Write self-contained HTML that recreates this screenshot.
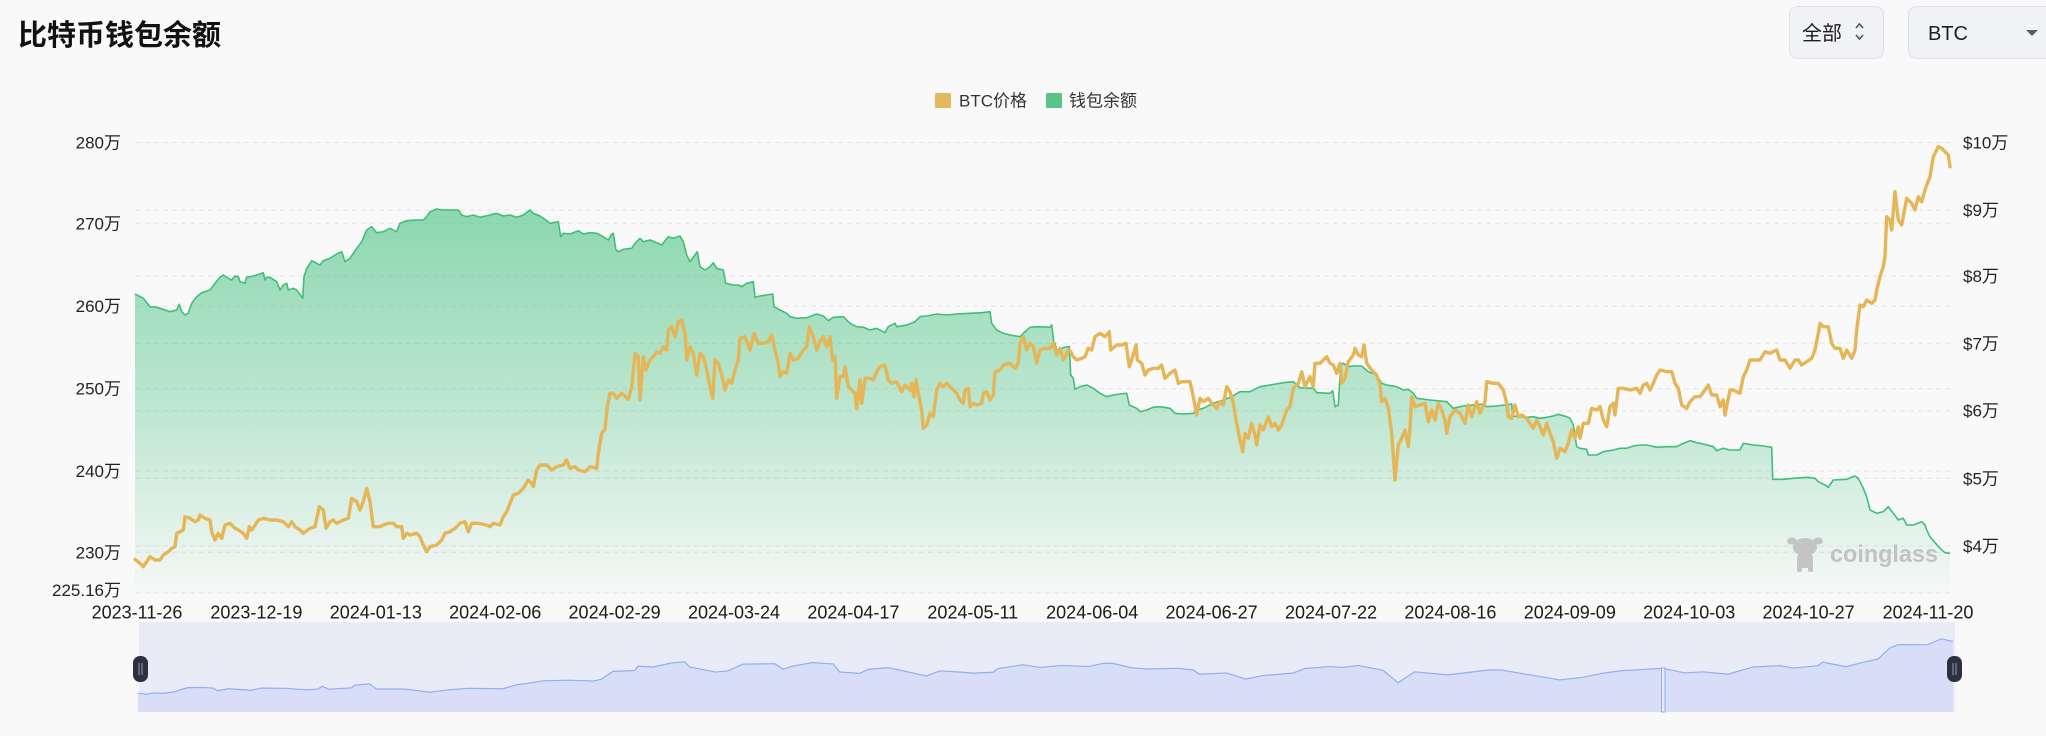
<!DOCTYPE html>
<html>
<head>
<meta charset="utf-8">
<style>
html,body{margin:0;padding:0;background:#f9f9f9;}
body{width:2046px;height:736px;overflow:hidden;position:relative;}
svg{position:absolute;left:0;top:0;}
text{font-family:"Liberation Sans","Noto Sans CJK SC",sans-serif;}
</style>
</head>
<body>
<svg width="2046" height="736" viewBox="0 0 2046 736" xmlns="http://www.w3.org/2000/svg">
<defs>
<linearGradient id="ga" gradientUnits="userSpaceOnUse" x1="0" y1="209" x2="0" y2="593">
<stop offset="0" stop-color="rgb(61,191,122)" stop-opacity="0.58"/>
<stop offset="0.5" stop-color="rgb(61,191,122)" stop-opacity="0.33"/>
<stop offset="1" stop-color="rgb(61,191,122)" stop-opacity="0.02"/>
</linearGradient>
</defs>
<rect x="0" y="0" width="2046" height="736" fill="#f9f9f9"/>

<!-- Title -->
<text x="18" y="45" font-size="29" font-weight="bold" fill="#111" style="font-family:'Noto Sans CJK SC','Liberation Sans',sans-serif">比特币钱包余额</text>

<!-- Buttons -->
<rect x="1789.5" y="6.5" width="94" height="52" rx="8" fill="#f0f2f6" stroke="#dfe2e8"/>
<text x="1802" y="40" font-size="20" fill="#1f1f1f">全部</text>
<polyline points="1856,28 1859.5,24 1863,28" fill="none" stroke="#555" stroke-width="1.6"/>
<polyline points="1856,35 1859.5,39 1863,35" fill="none" stroke="#555" stroke-width="1.6"/>
<rect x="1908.5" y="6.5" width="150" height="52" rx="8" fill="#f0f2f6" stroke="#dfe2e8"/>
<text x="1928" y="40" font-size="20" fill="#1f1f1f">BTC</text>
<polygon points="2026,30 2038,30 2032,36" fill="#555d66"/>

<!-- Legend -->
<rect x="935" y="93" width="16" height="15" rx="1" fill="#e2b95f"/>
<text x="959" y="106.5" font-size="17" fill="#333">BTC价格</text>
<rect x="1046" y="93" width="16" height="15" rx="1" fill="#5ac487"/>
<text x="1069" y="106.5" font-size="17" fill="#333">钱包余额</text>

<!-- Grid -->
<g stroke="#e4e4e4" stroke-width="1" stroke-dasharray="5,4">
<line x1="136" y1="142.5" x2="1951" y2="142.5"/>
<line x1="136" y1="210" x2="1951" y2="210"/>
<line x1="136" y1="223.3" x2="1951" y2="223.3"/>
<line x1="136" y1="276" x2="1951" y2="276"/>
<line x1="136" y1="306" x2="1951" y2="306"/>
<line x1="136" y1="343.3" x2="1951" y2="343.3"/>
<line x1="136" y1="388.7" x2="1951" y2="388.7"/>
<line x1="136" y1="410.7" x2="1951" y2="410.7"/>
<line x1="136" y1="471" x2="1951" y2="471"/>
<line x1="136" y1="478.3" x2="1951" y2="478.3"/>
<line x1="136" y1="546" x2="1951" y2="546"/>
<line x1="136" y1="552.3" x2="1951" y2="552.3"/>
<line x1="136" y1="593" x2="1951" y2="593"/>
</g>

<!-- Left axis labels -->
<g font-size="17" fill="#222" text-anchor="end">
<text x="121" y="148.5">280万</text>
<text x="121" y="229.5">270万</text>
<text x="121" y="312">260万</text>
<text x="121" y="394.7">250万</text>
<text x="121" y="477">240万</text>
<text x="121" y="558.3">230万</text>
<text x="121" y="596">225.16万</text>
</g>
<!-- Right axis labels -->
<g font-size="17" fill="#222">
<text x="1963" y="148.5">$10万</text>
<text x="1963" y="216">$9万</text>
<text x="1963" y="282">$8万</text>
<text x="1963" y="349.3">$7万</text>
<text x="1963" y="416.7">$6万</text>
<text x="1963" y="484.3">$5万</text>
<text x="1963" y="552">$4万</text>
</g>

<!-- X labels -->
<g font-size="18" fill="#1a1a1a" text-anchor="middle">
<text x="137" y="618.5">2023-11-26</text>
<text x="256.4" y="618.5">2023-12-19</text>
<text x="375.8" y="618.5">2024-01-13</text>
<text x="495.2" y="618.5">2024-02-06</text>
<text x="614.6" y="618.5">2024-02-29</text>
<text x="734" y="618.5">2024-03-24</text>
<text x="853.4" y="618.5">2024-04-17</text>
<text x="972.8" y="618.5">2024-05-11</text>
<text x="1092.2" y="618.5">2024-06-04</text>
<text x="1211.6" y="618.5">2024-06-27</text>
<text x="1331" y="618.5">2024-07-22</text>
<text x="1450.4" y="618.5">2024-08-16</text>
<text x="1569.8" y="618.5">2024-09-09</text>
<text x="1689.2" y="618.5">2024-10-03</text>
<text x="1808.6" y="618.5">2024-10-27</text>
<text x="1928" y="618.5">2024-11-20</text>
</g>

<!-- Green area -->
<path fill="url(#ga)" d="M135,294 L143.3,298.3 150,306.7 156.7,307.3 163.3,309.3 170,311.7 176.7,310 179.3,304.3 181.7,311.7 185,315 188.3,313.3 191.7,303.3 196.7,296.7 201.7,292.7 210,290 215,283.3 220,277.3 223.3,275 228.3,278.3 231.7,280 235,276 238.3,276.7 240,281.7 245,283.3 246.7,277.3 253.3,276 260,274 263.3,272.7 265,280 266.7,277.3 270,277.3 276.7,281.7 280,290 283.3,285 286.7,283.3 288.3,290 293.3,288.3 296.7,290 302.7,298.3 304,276.7 306.7,268.3 311.7,260.7 316.7,263.3 320,265 323.3,260.7 330,258.3 336.7,254 341.7,251.7 345,261.7 350,258.3 356.7,248.3 361.7,241.7 366.7,230 371.7,226.7 376.7,232.7 383.3,231.7 390,228.3 396.7,231.7 400,223.3 406.7,220.7 416.7,220 423.3,220 426.7,216.7 430,211.7 436.7,209 443.3,210 450,210 458.3,210 461.7,215 466.7,216.7 473.3,215 480,217.3 490,215 496.7,213.3 503.3,216 510,215 516.7,217.3 523.3,215 530,210 533.3,213.3 540,216 546.7,220.7 550,223.3 558.3,221.7 560.7,236.7 563.3,233.3 570,234 578.3,230.7 583.3,234 590,232.7 596.7,233.3 603.3,236.7 608.3,240 611.7,234 613.3,233.3 616,250 618.3,251.7 623.3,249.3 631.7,248.3 635,243.3 640,238.3 643.3,241.7 650,240 656.7,242.7 661.7,245 668.3,236.7 673.3,238.3 680,236 683.3,241.7 686.7,255 690,261.7 695,255 697.3,251.7 700,266.7 705,270 710,266.7 713.3,262.7 716.7,268.3 723.3,270 725.7,283.3 733.3,285 738.3,285 741.7,286.7 746.7,283.3 753.3,281.7 755,297.3 760,296 772.7,294 774,306.7 780,310 786.7,313.3 790,316.7 796.7,318.3 806.7,317.7 816.7,314 823.3,316 828.3,320.7 833.3,317.3 843.3,316.7 850,323.3 856.7,326.7 863.3,327.3 870,330 876.7,328.3 885,332.7 888.3,326.7 895,323.3 896.7,326.7 906.7,325 915,321.7 920,316.7 926.7,316 936.7,314 946.7,315 956.7,314 970,313.3 981.7,312.7 990,311.7 991.7,323.3 996.7,330 1003.3,333.3 1010,335 1020,336.7 1025,331.7 1030,327.3 1038.3,326.7 1050,327.3 1051.7,324.7 1054,343.3 1055,343.3 1056.7,350 1061.7,348.3 1066.7,346.7 1069.3,346.7 1070.7,375 1073.3,378.3 1075,389.3 1080,386.7 1086.7,385 1093.3,388.3 1100,393.3 1106.7,396.7 1113.3,395 1120,394 1126.7,393.3 1129.3,405 1136.7,408.3 1140,411.7 1146.7,410 1153.3,407.3 1160,406.7 1170,408.3 1175,413.3 1183.3,414 1193.3,413.3 1196.7,410 1203.3,408.3 1213.3,403.3 1223.3,400 1231.7,396.7 1240,391.7 1250,391.7 1260,386.7 1270,385 1283.3,382.7 1293.3,381.7 1300,387.7 1313.3,388.3 1316.7,392.7 1330,393.3 1332.7,390.7 1335,406.7 1338.3,405 1340.7,365 1343.3,363.3 1348.3,366.7 1353.3,366 1361.7,366 1368.3,371.7 1376.7,375 1381.7,383.3 1386.7,385 1396.7,386.7 1403.3,390 1408.3,389.3 1413.3,393.3 1416.7,398.3 1430,400 1446.7,401.7 1453.3,408.3 1463.3,406 1473.3,405 1483.3,404 1486.7,406.7 1496.7,406 1511.7,404 1512.7,416 1520,416.7 1526.7,417.3 1533.3,416.7 1540,418.3 1546.7,417.3 1553.3,416 1558.3,414.3 1566.7,416.7 1570,418.3 1573.3,425 1576.7,446.7 1580,448.3 1586.7,449.3 1588.3,455 1596.7,455 1603.3,451.7 1613.3,450 1620,448.3 1626.7,448.3 1633.3,446 1640,445 1646.7,445 1656.7,447.3 1666.7,446.7 1676.7,446.7 1681.7,444 1690,440.7 1696.7,442.7 1703.3,444 1713.3,446.7 1716.7,450.7 1723.3,448.3 1730,450 1740,450 1743.3,443.3 1753.3,445 1763.3,446 1771.7,447.3 1772.7,479.3 1783.3,479.3 1793.3,478.3 1806.7,477.3 1815,478.3 1818.3,481.7 1825,485 1828.3,487.3 1833.3,480 1846.7,479.3 1855,476 1858.3,478.3 1863.3,488.3 1866.7,496.7 1870,510 1876.7,513.3 1883.3,511.7 1888.3,506.7 1893.3,513.3 1898.3,520 1903.3,518.3 1906.7,525 1913.3,525 1921.7,521.7 1925,525 1926.7,530 1930,536.7 1933.3,540.7 1940,548.3 1945,552.7 1950,553.3 L1950,593 L135,593 Z"/>

<!-- Green line -->
<polyline fill="none" stroke="#41be78" stroke-width="1.6" stroke-linejoin="round" points="135,294 143.3,298.3 150,306.7 156.7,307.3 163.3,309.3 170,311.7 176.7,310 179.3,304.3 181.7,311.7 185,315 188.3,313.3 191.7,303.3 196.7,296.7 201.7,292.7 210,290 215,283.3 220,277.3 223.3,275 228.3,278.3 231.7,280 235,276 238.3,276.7 240,281.7 245,283.3 246.7,277.3 253.3,276 260,274 263.3,272.7 265,280 266.7,277.3 270,277.3 276.7,281.7 280,290 283.3,285 286.7,283.3 288.3,290 293.3,288.3 296.7,290 302.7,298.3 304,276.7 306.7,268.3 311.7,260.7 316.7,263.3 320,265 323.3,260.7 330,258.3 336.7,254 341.7,251.7 345,261.7 350,258.3 356.7,248.3 361.7,241.7 366.7,230 371.7,226.7 376.7,232.7 383.3,231.7 390,228.3 396.7,231.7 400,223.3 406.7,220.7 416.7,220 423.3,220 426.7,216.7 430,211.7 436.7,209 443.3,210 450,210 458.3,210 461.7,215 466.7,216.7 473.3,215 480,217.3 490,215 496.7,213.3 503.3,216 510,215 516.7,217.3 523.3,215 530,210 533.3,213.3 540,216 546.7,220.7 550,223.3 558.3,221.7 560.7,236.7 563.3,233.3 570,234 578.3,230.7 583.3,234 590,232.7 596.7,233.3 603.3,236.7 608.3,240 611.7,234 613.3,233.3 616,250 618.3,251.7 623.3,249.3 631.7,248.3 635,243.3 640,238.3 643.3,241.7 650,240 656.7,242.7 661.7,245 668.3,236.7 673.3,238.3 680,236 683.3,241.7 686.7,255 690,261.7 695,255 697.3,251.7 700,266.7 705,270 710,266.7 713.3,262.7 716.7,268.3 723.3,270 725.7,283.3 733.3,285 738.3,285 741.7,286.7 746.7,283.3 753.3,281.7 755,297.3 760,296 772.7,294 774,306.7 780,310 786.7,313.3 790,316.7 796.7,318.3 806.7,317.7 816.7,314 823.3,316 828.3,320.7 833.3,317.3 843.3,316.7 850,323.3 856.7,326.7 863.3,327.3 870,330 876.7,328.3 885,332.7 888.3,326.7 895,323.3 896.7,326.7 906.7,325 915,321.7 920,316.7 926.7,316 936.7,314 946.7,315 956.7,314 970,313.3 981.7,312.7 990,311.7 991.7,323.3 996.7,330 1003.3,333.3 1010,335 1020,336.7 1025,331.7 1030,327.3 1038.3,326.7 1050,327.3 1051.7,324.7 1054,343.3 1055,343.3 1056.7,350 1061.7,348.3 1066.7,346.7 1069.3,346.7 1070.7,375 1073.3,378.3 1075,389.3 1080,386.7 1086.7,385 1093.3,388.3 1100,393.3 1106.7,396.7 1113.3,395 1120,394 1126.7,393.3 1129.3,405 1136.7,408.3 1140,411.7 1146.7,410 1153.3,407.3 1160,406.7 1170,408.3 1175,413.3 1183.3,414 1193.3,413.3 1196.7,410 1203.3,408.3 1213.3,403.3 1223.3,400 1231.7,396.7 1240,391.7 1250,391.7 1260,386.7 1270,385 1283.3,382.7 1293.3,381.7 1300,387.7 1313.3,388.3 1316.7,392.7 1330,393.3 1332.7,390.7 1335,406.7 1338.3,405 1340.7,365 1343.3,363.3 1348.3,366.7 1353.3,366 1361.7,366 1368.3,371.7 1376.7,375 1381.7,383.3 1386.7,385 1396.7,386.7 1403.3,390 1408.3,389.3 1413.3,393.3 1416.7,398.3 1430,400 1446.7,401.7 1453.3,408.3 1463.3,406 1473.3,405 1483.3,404 1486.7,406.7 1496.7,406 1511.7,404 1512.7,416 1520,416.7 1526.7,417.3 1533.3,416.7 1540,418.3 1546.7,417.3 1553.3,416 1558.3,414.3 1566.7,416.7 1570,418.3 1573.3,425 1576.7,446.7 1580,448.3 1586.7,449.3 1588.3,455 1596.7,455 1603.3,451.7 1613.3,450 1620,448.3 1626.7,448.3 1633.3,446 1640,445 1646.7,445 1656.7,447.3 1666.7,446.7 1676.7,446.7 1681.7,444 1690,440.7 1696.7,442.7 1703.3,444 1713.3,446.7 1716.7,450.7 1723.3,448.3 1730,450 1740,450 1743.3,443.3 1753.3,445 1763.3,446 1771.7,447.3 1772.7,479.3 1783.3,479.3 1793.3,478.3 1806.7,477.3 1815,478.3 1818.3,481.7 1825,485 1828.3,487.3 1833.3,480 1846.7,479.3 1855,476 1858.3,478.3 1863.3,488.3 1866.7,496.7 1870,510 1876.7,513.3 1883.3,511.7 1888.3,506.7 1893.3,513.3 1898.3,520 1903.3,518.3 1906.7,525 1913.3,525 1921.7,521.7 1925,525 1926.7,530 1930,536.7 1933.3,540.7 1940,548.3 1945,552.7 1950,553.3"/>

<!-- Watermark -->
<g fill="#c4c4c4">
<ellipse cx="1805" cy="547" rx="12" ry="9"/>
<ellipse cx="1792" cy="541" rx="5" ry="3.5"/>
<ellipse cx="1818" cy="541" rx="5" ry="3.5"/>
<rect x="1797" y="553" width="16" height="15" rx="5"/>
<rect x="1797" y="564" width="5" height="8" rx="2"/>
<rect x="1808" y="564" width="5" height="8" rx="2"/>
</g>
<text x="1830" y="562" font-size="24" font-weight="bold" fill="#c2c2c2" textLength="108" lengthAdjust="spacingAndGlyphs">coinglass</text>

<!-- Yellow (BTC price) line -->
<polyline fill="none" stroke="#e4b658" stroke-width="3.4" stroke-linejoin="round" stroke-linecap="round" points="135,559.3 140,563.3 143.3,566.7 146.7,561.7 150,556.7 155,560 160,560 163.3,555 168.3,551.7 171.7,548.3 175,546.7 176.7,533.3 180,531.7 183.3,530 185,516.7 190,518.3 195,521.7 198.3,520 200,515 205,518.3 210,520 211.7,531.7 215,540 218.3,533.3 221.7,538.3 225,525 230,523.3 235,528.3 238.3,530 243.3,533.3 246.7,538.3 249.3,526.7 251.7,530 254,526.7 258.3,520 263.3,518.3 270,520 276.7,520 283.3,521.7 288.3,526.7 291.7,521.7 295,526.7 300,530 303.3,533.3 310,528.3 315,526.7 319.3,506.7 323.3,510 326,528.3 330,521.7 333.3,520 336.7,523.3 343.3,520 348.3,518.3 351.7,498.3 356.7,501.7 360,510 363.3,501.7 366.7,488.3 370,501.7 373.3,526.7 380,526.7 383.3,525 388.3,523.3 393.3,523.3 396.7,526.7 401.7,526.7 403.3,538.3 406.7,533.3 410,535 416.7,533.3 420,536.7 423.3,545 426.7,551.7 430,546.7 436.7,545 441.7,540 445,533.3 450,531.7 455,528.3 460,523.3 465,521.7 468.3,531.7 471.7,523.3 478.3,523.3 486.7,525 490,526.7 493.3,523.3 500,525 503.3,516.7 506.7,511.7 510,503.3 513.3,495 518.3,493.3 523.3,488.3 528.3,480 531.7,483.3 533.3,486.7 536.7,470 540,465 546.7,465 551.7,470 556.7,466.7 563.3,465 566.7,460 570,468.3 575,466.7 578.3,470 585,471.7 590,466.7 596.7,468.3 598.3,453.3 601.7,433.3 605,429.3 607.3,406.7 610,393.3 613.3,393.3 616.7,398.3 621.7,393.3 628.3,399.3 631.7,386.7 635,353.3 638.3,356.7 640,400 643.3,356.7 646,370 650,360 653.3,356.7 656.7,351.7 660,353.3 663.3,346.7 666.7,350 668.3,330 671.7,326.7 675,336.7 678.3,321.7 681.7,320 685,333.3 686.7,360 690,346.7 693.3,353.3 696.7,375 700,353.3 703.3,356.7 706.7,370 710,386.7 712.7,398.3 715,360 718.3,363.3 721.7,375 725,390 728.3,380 731.7,383.3 735,370 738.3,360 740,338.3 745,336.7 750,350 754,333.3 758.3,343.3 763.3,343.3 768.3,341.7 771.7,335 775,350 778.3,363.3 780,376.7 783.3,371.7 786.7,373.3 790,353.3 793.3,360 798.3,358.3 803.3,350 806.7,346.7 809.3,326.7 813.3,336.7 816.7,350 820,341.7 823.3,336.7 826.7,346.7 830,336.7 832.7,360 835,356.7 836.7,398.3 840,376.7 843.3,376.7 845,366.7 848.3,386.7 851.7,390 855,393.3 856.7,408.3 860,380 861.7,403.3 865,378.3 870,378.3 873.3,380 876.7,371.7 880,366.7 885,365 888.3,380 891.7,383.3 896.7,381.7 901.7,391.7 905,385 910,390 911.7,383.3 914,396.7 916,380 918.3,393.3 921.7,410 923.3,428.3 926.7,425 930,413.3 933.3,416.7 936.7,390 940,383.3 943.3,386.7 946.7,383.3 950,386.7 953.3,390 956.7,393.3 960,400 963.3,403.3 965,390 968.3,388.3 970,406.7 973.3,403.3 976.7,405 981.7,403.3 983.3,393.3 986.7,391.7 990,400 993.3,395 995,371.7 1000,370 1003.3,365 1010,363.3 1015,368.3 1018.3,363.3 1020,343.3 1023.3,336.7 1026.7,350 1030,343.3 1033.3,346.7 1036.7,363.3 1040,350 1045,348.3 1050,348.3 1053.3,343.3 1056.7,355 1060,348.3 1063.3,360 1068.3,350 1070.7,351.7 1073.3,356.7 1076.7,360 1081.7,358.3 1085,356.7 1088.3,348.3 1091.7,350 1095,336.7 1100,333.3 1105,336.7 1109.3,331.7 1110.7,350 1116.7,345 1121.7,345 1126,343.3 1129.3,366.7 1131.7,360 1136,345 1137.3,360 1141.7,363.3 1145,375 1148.3,370 1153.3,368.3 1158.3,368.3 1161.7,365 1165,378.3 1170,373.3 1175,370 1178.3,383.3 1181.7,381.7 1186.7,381.7 1190,381.7 1193.3,396.7 1196.7,415 1200,398.3 1203.3,401.7 1208.3,398.3 1211.7,403.3 1216.7,408.3 1220,401.7 1223.3,405 1226.7,386.7 1230,391.7 1233.3,403.3 1236,420 1240,440 1242.7,451.7 1245,433.3 1248.3,438.3 1251.7,423.3 1255,435 1256.7,445 1260,425 1263.3,430 1268.3,416.7 1271.7,426.7 1275,423.3 1278.3,430 1281.7,425 1286.7,410 1290,406.7 1293.3,388.3 1298.3,383.3 1301.7,371.7 1305,386.7 1310,376.7 1313.3,386.7 1315,363.3 1320,363.3 1326.7,356.7 1330,363.3 1333.3,365 1336.7,373.3 1340,363.3 1341.7,383.3 1345,378.3 1348.3,361.7 1353.3,355 1355,348.3 1358.3,355 1361.7,356.7 1364,345 1366.7,363.3 1371.7,370 1376.7,375 1380,385 1381.7,401.7 1385,398.3 1388.3,408.3 1391.7,433.3 1395,480 1398.3,445 1401.7,438.3 1405,430 1408.3,446.7 1410,428.3 1411.7,396.7 1415,406.7 1420,405 1425,403.3 1428.3,421.7 1431.7,410 1435,420 1438.3,403.3 1441.7,410 1445,420 1446.7,433.3 1450,416.7 1455,410 1460,413.3 1465,423.3 1468.3,405 1471.7,416.7 1476.7,401.7 1480,413.3 1485,401.7 1486.7,381.7 1493.3,383.3 1498.3,383.3 1503.3,390 1506.7,403.3 1508.3,416.7 1511.7,418.3 1515,405 1518.3,416.7 1521.7,415 1526.7,418.3 1530,423.3 1533.3,428.3 1536.7,420 1540,426.7 1543.3,435 1546.7,423.3 1550,433.3 1553.3,441.7 1556.7,458.3 1560,448.3 1565,451.7 1568.3,443.3 1571.7,430 1575,438.3 1578.3,426.7 1580,438.3 1583.3,423.3 1588.3,423.3 1591.7,408.3 1596.7,410 1600,406.7 1603.3,420 1606.7,426.7 1610,406.7 1613.3,403.3 1615,415 1618.3,388.3 1623.3,388.3 1630,390 1636.7,388.3 1640,393.3 1643.3,385 1646.7,383.3 1650,390 1653.3,383.3 1656.7,375 1660,370 1666.7,371.7 1671.7,371.7 1675,383.3 1678.3,388.3 1681.7,405 1686.7,408.3 1690,401.7 1695,396.7 1700,396.7 1705,390 1708.3,385 1711.7,395 1716.7,395 1720,406.7 1723.3,400 1725,415 1730,390 1733.3,390 1740,393.3 1743.3,376.7 1746.7,370 1750,360 1755,360 1760,360 1765,351.7 1770,353.3 1776.7,350 1780,360 1785,360 1790,368.3 1795,360 1798.3,360 1801.7,365 1806.7,361.7 1811.7,358.3 1815,350 1818.3,333.3 1820,323.3 1823.3,326.7 1828.3,326.7 1831.7,343.3 1835,348.3 1840,348.3 1843.3,358.3 1846.7,350 1851.7,358.3 1855,350 1856.7,330 1860,305 1863.3,306.7 1866.7,300 1871.7,303.3 1875,300 1876.7,290 1880,276.7 1883.3,266.7 1885,256.7 1886.7,216.7 1890,220 1891.7,230 1895,191.7 1898.3,220 1901.7,225 1906.7,198.3 1911.7,203.3 1915,210 1918.3,196.7 1921.7,201.7 1925,190 1926.7,185 1930,176.7 1933.3,156.7 1938.3,146.7 1941.7,148.3 1945,151.7 1948.3,155 1950,166.7"/>

<!-- Navigator -->
<rect x="139" y="622" width="1816" height="90" fill="#e9ebf7"/>
<g transform="matrix(1,0,0,0.1319,3,619.5)">
<path fill="#d8def7" stroke="none" d="M135,559.3 L140,563.3 143.3,566.7 150,556.7 160,560 171.7,548.3 176.7,533.3 185,516.7 200,515 210,520 215,540 225,525 243.3,533.3 246.7,538.3 258.3,520 283.3,521.7 303.3,533.3 315,526.7 319.3,506.7 326,528.3 348.3,518.3 351.7,498.3 366.7,488.3 373.3,526.7 401.7,526.7 410,535 426.7,551.7 445,533.3 465,521.7 500,525 513.3,495 528.3,480 540,465 566.7,460 590,466.7 598.3,453.3 607.3,406.7 610,393.3 631.7,386.7 635,353.3 650,360 668.3,330 681.7,320 686.7,360 696.7,375 712.7,398.3 725,390 740,338.3 771.7,335 780,376.7 790,353.3 809.3,326.7 830,336.7 836.7,398.3 856.7,408.3 865,378.3 885,365 901.7,391.7 923.3,428.3 936.7,390 960,400 970,406.7 990,400 995,371.7 1020,343.3 1036.7,363.3 1060,348.3 1085,356.7 1100,333.3 1109.3,331.7 1129.3,366.7 1145,375 1175,370 1190,381.7 1196.7,415 1223.3,405 1242.7,451.7 1260,425 1290,406.7 1301.7,371.7 1326.7,356.7 1340,363.3 1355,348.3 1380,385 1395,480 1411.7,396.7 1445,420 1486.7,381.7 1498.3,383.3 1530,423.3 1556.7,458.3 1580,438.3 1600,406.7 1618.3,388.3 1660,370 1681.7,405 1700,396.7 1725,415 1750,360 1776.7,350 1790,368.3 1815,350 1820,323.3 1843.3,358.3 1856.7,330 1875,300 1886.7,216.7 1895,191.7 1925,190 1938.3,146.7 1950,166.7 L1950,701.3 L135,701.3 Z"/>
<polyline fill="none" stroke="#91aef2" stroke-width="1.2" vector-effect="non-scaling-stroke" points="135,559.3 140,563.3 143.3,566.7 150,556.7 160,560 171.7,548.3 176.7,533.3 185,516.7 200,515 210,520 215,540 225,525 243.3,533.3 246.7,538.3 258.3,520 283.3,521.7 303.3,533.3 315,526.7 319.3,506.7 326,528.3 348.3,518.3 351.7,498.3 366.7,488.3 373.3,526.7 401.7,526.7 410,535 426.7,551.7 445,533.3 465,521.7 500,525 513.3,495 528.3,480 540,465 566.7,460 590,466.7 598.3,453.3 607.3,406.7 610,393.3 631.7,386.7 635,353.3 650,360 668.3,330 681.7,320 686.7,360 696.7,375 712.7,398.3 725,390 740,338.3 771.7,335 780,376.7 790,353.3 809.3,326.7 830,336.7 836.7,398.3 856.7,408.3 865,378.3 885,365 901.7,391.7 923.3,428.3 936.7,390 960,400 970,406.7 990,400 995,371.7 1020,343.3 1036.7,363.3 1060,348.3 1085,356.7 1100,333.3 1109.3,331.7 1129.3,366.7 1145,375 1175,370 1190,381.7 1196.7,415 1223.3,405 1242.7,451.7 1260,425 1290,406.7 1301.7,371.7 1326.7,356.7 1340,363.3 1355,348.3 1380,385 1395,480 1411.7,396.7 1445,420 1486.7,381.7 1498.3,383.3 1530,423.3 1556.7,458.3 1580,438.3 1600,406.7 1618.3,388.3 1660,370 1681.7,405 1700,396.7 1725,415 1750,360 1776.7,350 1790,368.3 1815,350 1820,323.3 1843.3,358.3 1856.7,330 1875,300 1886.7,216.7 1895,191.7 1925,190 1938.3,146.7 1950,166.7"/>
</g>
<rect x="1661.5" y="668" width="3.5" height="44" fill="#e9ebf7" stroke="#91aef2" stroke-width="1"/>

<!-- Nav handles -->
<rect x="133" y="656" width="15" height="26" rx="7" fill="#2d3040"/>
<line x1="139" y1="663" x2="139" y2="675" stroke="#9a9cae" stroke-width="1"/>
<line x1="142" y1="663" x2="142" y2="675" stroke="#9a9cae" stroke-width="1"/>
<rect x="1947" y="656" width="15" height="26" rx="7" fill="#2d3040"/>
<line x1="1953" y1="663" x2="1953" y2="675" stroke="#9a9cae" stroke-width="1"/>
<line x1="1956" y1="663" x2="1956" y2="675" stroke="#9a9cae" stroke-width="1"/>
</svg>
</body>
</html>
